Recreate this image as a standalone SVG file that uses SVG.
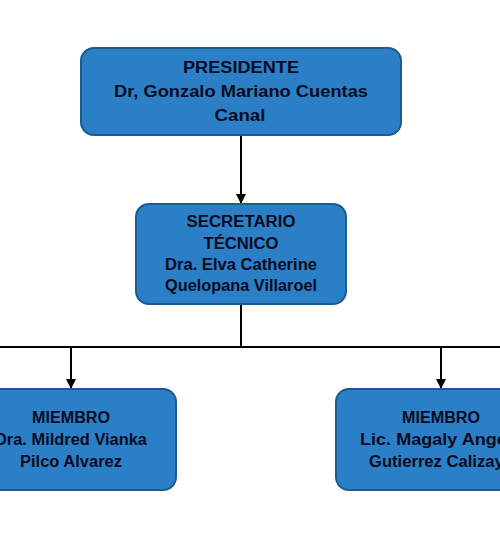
<svg xmlns="http://www.w3.org/2000/svg" width="500" height="559" viewBox="0 0 500 559">
<defs>
<style>
.box{fill:#2a7fc6;stroke:#1d5a8e;stroke-width:2}
.t{font-family:"Liberation Sans",Arial,sans-serif;font-weight:bold;font-size:16px;fill:#0b0b1e;text-anchor:middle}
.c{stroke:#000;stroke-width:2;fill:none}
</style>
<marker id="ah" viewBox="0 0 10 10" refX="10" refY="5" markerWidth="5" markerHeight="5" orient="auto" markerUnits="strokeWidth">
<path d="M0,0 L10,5 L0,10 z" fill="#000"/>
</marker>
</defs>
<rect width="500" height="559" fill="#fff"/>
<g id="connectors">
<path class="c" d="M241,135 V204" marker-end="url(#ah)"/>
<path class="c" d="M241,304 V347"/>
<path class="c" d="M0,347 H500"/>
<path class="c" d="M71,347 V389" marker-end="url(#ah)"/>
<path class="c" d="M441,347 V389" marker-end="url(#ah)"/>
</g>
<g id="presidente">
<rect class="box" x="81" y="48" width="320" height="87" rx="13"/>
<text class="t" x="241" y="73" textLength="116" lengthAdjust="spacingAndGlyphs">PRESIDENTE</text>
<text class="t" x="241" y="97" textLength="254" lengthAdjust="spacingAndGlyphs">Dr, Gonzalo Mariano Cuentas</text>
<text class="t" x="240" y="121" textLength="51" lengthAdjust="spacingAndGlyphs">Canal</text>
</g>
<g id="secretario">
<rect class="box" x="136" y="204" width="210" height="100" rx="13"/>
<text class="t" x="241" y="227" textLength="109" lengthAdjust="spacingAndGlyphs">SECRETARIO</text>
<text class="t" x="241" y="249" textLength="75" lengthAdjust="spacingAndGlyphs">TÉCNICO</text>
<text class="t" x="241" y="270" textLength="152" lengthAdjust="spacingAndGlyphs">Dra. Elva Catherine</text>
<text class="t" x="241" y="291" textLength="152" lengthAdjust="spacingAndGlyphs">Quelopana Villaroel</text>
</g>
<g id="miembro1">
<rect class="box" x="-34" y="389" width="210" height="101" rx="13"/>
<text class="t" x="71" y="423" textLength="78" lengthAdjust="spacingAndGlyphs">MIEMBRO</text>
<text class="t" x="71" y="445" textLength="152" lengthAdjust="spacingAndGlyphs">Dra. Mildred Vianka</text>
<text class="t" x="71" y="467" textLength="102" lengthAdjust="spacingAndGlyphs">Pilco Alvarez</text>
</g>
<g id="miembro2">
<rect class="box" x="336" y="389" width="210" height="101" rx="13"/>
<text class="t" x="441" y="423" textLength="78" lengthAdjust="spacingAndGlyphs">MIEMBRO</text>
<text class="t" x="441" y="445" textLength="162" lengthAdjust="spacingAndGlyphs">Lic. Magaly Angela</text>
<text class="t" x="441" y="467" textLength="144" lengthAdjust="spacingAndGlyphs">Gutierrez Calizaya</text>
</g>
</svg>
